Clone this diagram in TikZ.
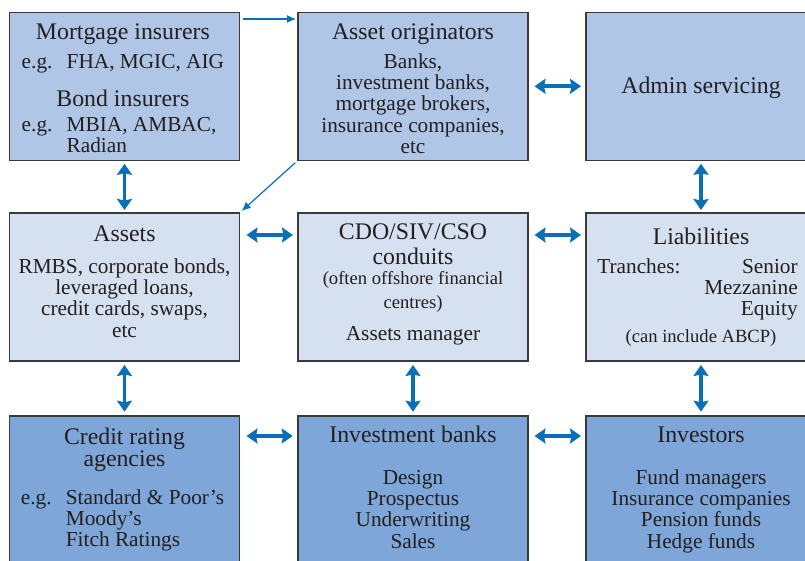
\documentclass[tikz,border=0pt]{standalone}
\usepackage{fontspec}
\setmainfont{Liberation Serif}
\usetikzlibrary{arrows.meta}
\definecolor{fillmid}{HTML}{AFC6E7}
\definecolor{filllight}{HTML}{D5E0F1}
\definecolor{filldark}{HTML}{7EA6D8}
\definecolor{linkblue}{HTML}{0B6FB7}
\definecolor{rimgray}{HTML}{3A3A3A}
\definecolor{inkgray}{HTML}{231F20}
\newcommand{\boxtitle}{\fontsize{23.8}{24.7}\selectfont}
\newcommand{\boxbody}{\fontsize{21.3}{21.3}\selectfont}
\newcommand{\boxsmall}{\fontsize{18.6}{24}\selectfont}

\begin{document}
\begin{tikzpicture}[x=1pt,y=-1pt]
\tikzset{
  panel/.style={draw=rimgray,line width=1.2pt,minimum width=230pt,minimum height=148pt,inner sep=0pt,outer sep=0pt},
  txt/.style={anchor=base,inner sep=0pt,text=inkgray},
  link/.style={draw=linkblue,line width=3.8pt,<->,>={Stealth[length=11pt,width=15pt,inset=1.5pt]}},
  feed/.style={draw=linkblue,line width=1.2pt,-{Latex[length=9pt,width=8pt]}}
}
\clip (0,0) rectangle (805,561);
% top row
\node[panel,fill=fillmid] (mort) at (124.5,86.3) {};
\node[panel,fill=fillmid] (orig) at (413,86.3) {};
\node[panel,fill=fillmid] (admin) at (701,86.3) {};
% middle row
\node[panel,fill=filllight] (assets) at (124.5,287) {};
\node[panel,fill=filllight] (cdo) at (413,287) {};
\node[panel,fill=filllight] (liab) at (701,287) {};
% bottom row
\node[panel,fill=filldark] (credit) at (124.5,490) {};
\node[panel,fill=filldark] (invb) at (413,490) {};
\node[panel,fill=filldark] (inv) at (701,490) {};

% texts
\node[txt] (mortT) at ([xshift=-1.6pt,yshift=-27pt]mort.north) {\boxbody\begin{tabular}[t]{@{}l@{\hspace{14.2pt}}l@{}}
\multicolumn{2}{c}{\boxtitle Mortgage insurers}\\[7.7pt]
e.g. & FHA, MGIC, AIG\\[15pt]
\multicolumn{2}{c}{\boxtitle Bond insurers}\\[3.7pt]
e.g. & MBIA, AMBAC,\\
 & Radian
\end{tabular}};
\node[txt] (origT) at ([yshift=-27pt]orig.north) {\boxtitle Asset originators};
\node[txt] (origB) at ([yshift=-56pt]orig.north) {\boxbody\begin{tabular}[t]{@{}c@{}}Banks,\\investment banks,\\mortgage brokers,\\insurance companies,\\etc\end{tabular}};
\node[txt] (adminT) at ([yshift=-81pt]admin.north) {\boxtitle Admin servicing};

\node[txt] (assetsT) at ([yshift=-28pt]assets.north) {\boxtitle Assets};
\node[txt] (assetsB) at ([yshift=-60.3pt]assets.north) {\boxbody\begin{tabular}[t]{@{}c@{}}RMBS, corporate bonds,\\leveraged loans,\\credit cards, swaps,\\etc\end{tabular}};
\node[txt] (cdoT) at ([yshift=-26.3pt]cdo.north) {\boxtitle\begin{tabular}[t]{@{}c@{}}CDO/SIV/CSO\\conduits\end{tabular}};
\node[txt] (cdoN) at ([yshift=-71.3pt]cdo.north) {\boxsmall\begin{tabular}[t]{@{}c@{}}(often offshore financial\\centres)\end{tabular}};
\node[txt] (cdoB) at ([yshift=-127pt]cdo.north) {\boxbody Assets manager};
\node[txt] (liabT) at ([yshift=-31.3pt]liab.north) {\boxtitle Liabilities};
\node[txt] (liabB) at ([xshift=-3.5pt,yshift=-60.3pt]liab.north) {\boxbody\begin{tabular*}{200.4pt}[t]{@{}l@{\extracolsep{\fill}}r@{}}
Tranches: & Senior\\
 & Mezzanine\\
 & Equity
\end{tabular*}};
\node[txt] (liabN) at ([yshift=-129.7pt]liab.north) {\boxsmall (can include ABCP)};

\node[txt] (creditT) at ([yshift=-28.3pt]credit.north) {\boxtitle\begin{tabular}[t]{@{}c@{}}Credit rating\\[-2.3pt]agencies\end{tabular}};
\node[txt] (creditB) at ([xshift=-2pt,yshift=-88.3pt]credit.north) {\boxbody\begin{tabular}[t]{@{}l@{\hspace{14.2pt}}l@{}}
e.g. & Standard \& Poor's\\
 & Moody's\\
 & Fitch Ratings
\end{tabular}};
\node[txt] (invbT) at ([yshift=-26.3pt]invb.north) {\boxtitle Investment banks};
\node[txt] (invbB) at ([yshift=-68.3pt]invb.north) {\boxbody\begin{tabular}[t]{@{}c@{}}Design\\Prospectus\\Underwriting\\Sales\end{tabular}};
\node[txt] (invT) at ([yshift=-26.3pt]inv.north) {\boxtitle Investors};
\node[txt] (invB) at ([yshift=-68pt]inv.north) {\boxbody\begin{tabular}[t]{@{}c@{}}Fund managers\\Insurance companies\\Pension funds\\Hedge funds\end{tabular}};

% thin feeds
\draw[feed,shorten <=3.8pt,shorten >=2pt] ([yshift=-6.7pt]mort.north east) -- ([yshift=-6.7pt]orig.north west);
\draw[feed,shorten <=3.8pt,shorten >=3pt] (orig.south west) -- (assets.north east);

% two-way links
\draw[link,shorten <=6.5pt,shorten >=5pt] (orig.east) -- (admin.west);
\draw[link,shorten <=7pt,shorten >=5pt] ([yshift=-22pt]assets.north east) -- ([yshift=-22pt]cdo.north west);
\draw[link,shorten <=6.5pt,shorten >=5pt] ([yshift=-22pt]cdo.north east) -- ([yshift=-22pt]liab.north west);
\draw[link,shorten <=7pt,shorten >=5.3pt] ([yshift=-20pt]credit.north east) -- ([yshift=-20pt]invb.north west);
\draw[link,shorten <=6.5pt,shorten >=5pt] ([yshift=-20pt]invb.north east) -- ([yshift=-20pt]inv.north west);
\draw[link,shorten <=3.5pt,shorten >=3pt] (mort.south) -- (assets.north);
\draw[link,shorten <=3.5pt,shorten >=3pt] (admin.south) -- (liab.north);
\draw[link,shorten <=4pt,shorten >=4.3pt] (assets.south) -- (credit.north);
\draw[link,shorten <=4pt,shorten >=4.3pt] (cdo.south) -- (invb.north);
\draw[link,shorten <=4pt,shorten >=4.3pt] (liab.south) -- (inv.north);
\end{tikzpicture}
\end{document}
